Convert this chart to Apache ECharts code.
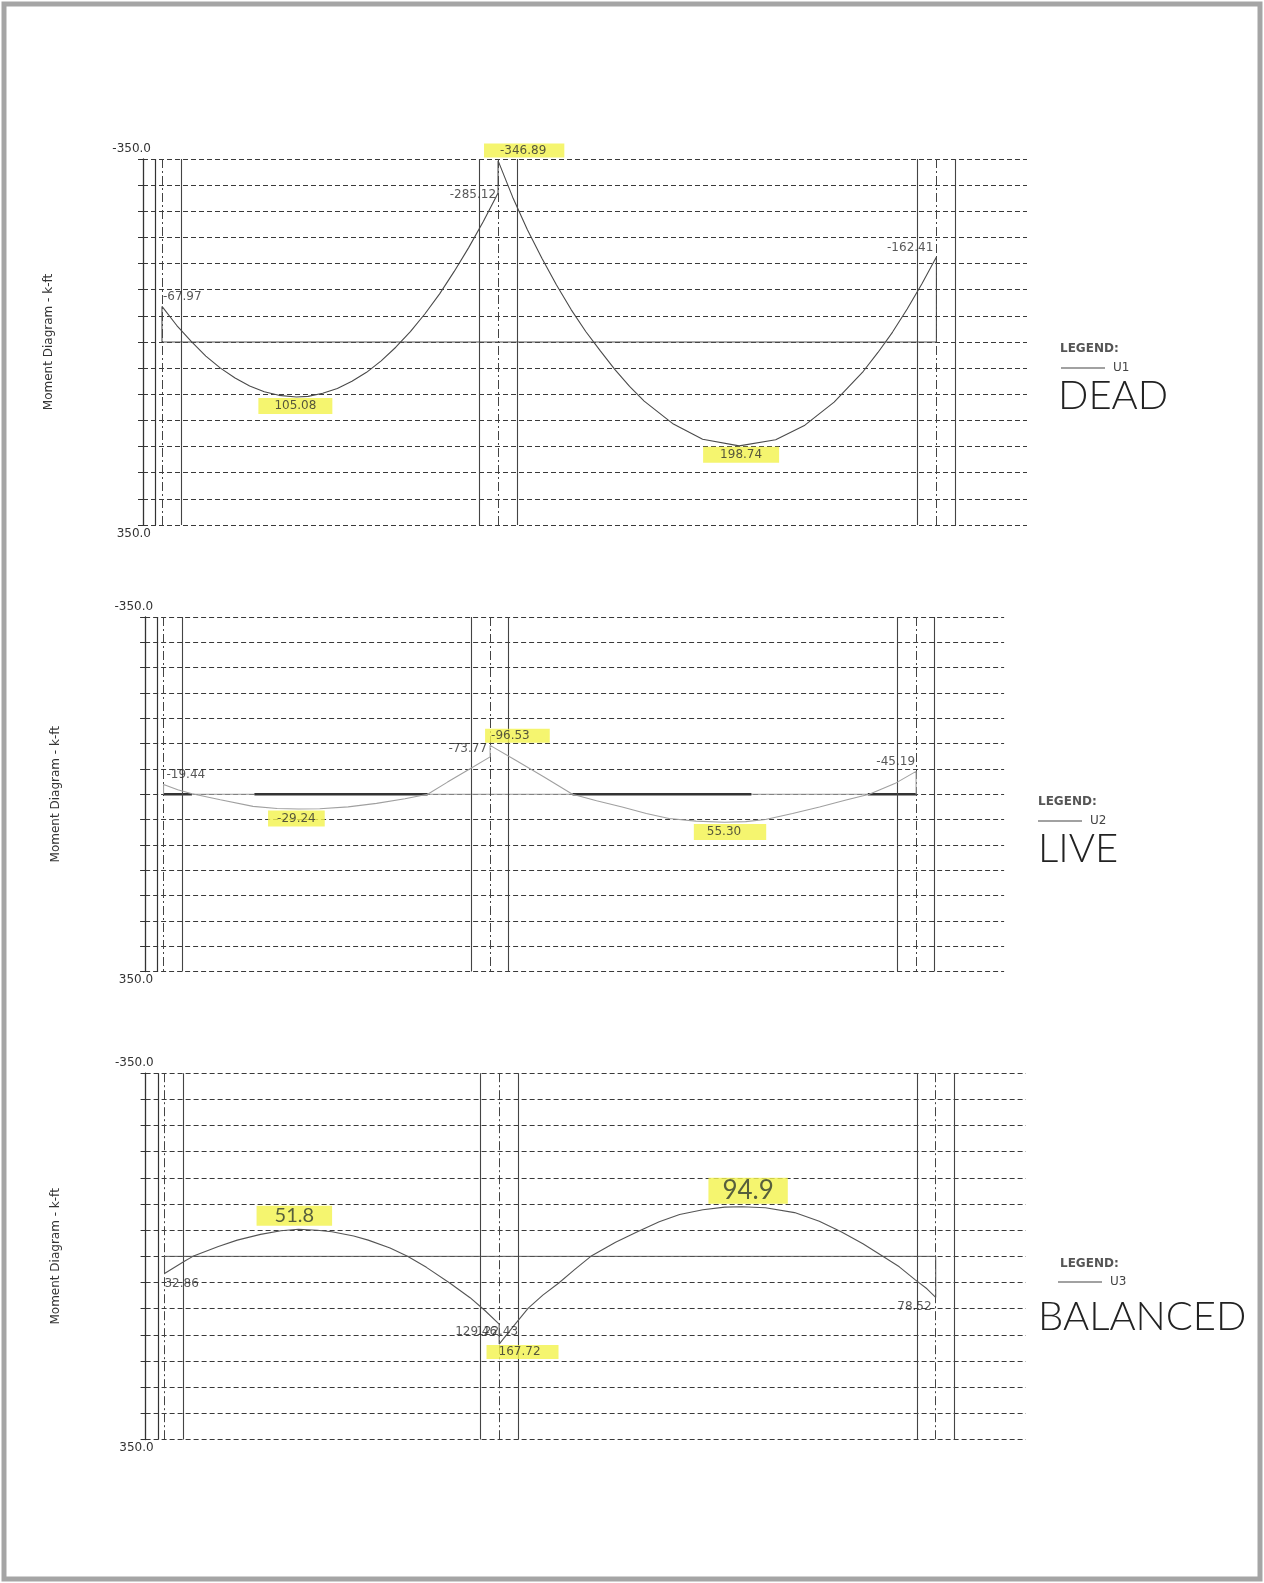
<!DOCTYPE html>
<html>
<head>
<meta charset="utf-8">
<script src="https://cdn.jsdelivr.net/npm/echarts/dist/echarts.min.js"></script>
<style>
html,body{margin:0;padding:0;background:#ffffff;}
#c{width:1264px;height:1583px;}
</style>
</head>
<body>
<div id="c"></div>
<script>
// ---------- shared geometry (feet along beam) ----------
const supports = [0, 23, 53];          // column centrelines
const colFace = 1.3;                   // half column width
const axisBoxInner = -0.45;            // inner line of the axis box
const xMin = -1.3, xMax = 59.2;
const yMin = -350, yMax = 350, yStep = 50;
const yTickLabels = ['-350.0', '350.0'];
const axisTitle = 'Moment Diagram - k-ft';
const legendNames = ['U1', 'U2', 'U3'];
const caseNames = ['DEAD', 'LIVE', 'BALANCED'];

// ---------- U1 : DEAD ----------
const deadLeft = [[0,-67.97],[1,-32],[2,-1],[3,27],[4,50],[5,69],[6,84],[7,95],[8,102],[9.2,105.08],[10,104],[11,98],[12,89],[13,75],[14,58],[15,36],[16,10],[17,-20],[18,-54],[19,-92],[20,-135],[21,-181],[22,-231],[23,-285.12]];
const deadRight = [[23,-346.89],[24,-277],[25,-215],[26,-160],[27,-109],[28,-62],[29,-20],[30,17],[31,53],[32,85],[33,113],[35,157],[37,186],[39.5,198.74],[42,187],[44,159],[46,115],[48,56],[49,20],[50,-19],[51,-63],[52,-111],[53,-162.41]];
const deadLabels = [[0,-67.97,'-67.97'],[9.2,105.08,'105.08'],[23,-285.12,'-285.12'],[23,-346.89,'-346.89'],[53,-162.41,'-162.41'],[39.5,198.74,'198.74']];

// ---------- U2 : LIVE ----------
const liveLeft = [[0,-19.44],[1,-9],[2,-1],[4,11],[6.3,24],[8,28],[9.5,29.24],[11,28.5],[13,25],[15,18],[17,9],[18.6,0],[20,-24],[21.5,-49],[23,-73.77]];
const liveRight = [[23,-96.53],[24.8,-67],[26.8,-34],[28.8,0],[30.5,13],[32.3,25],[34,38],[35.6,48],[37.5,53],[39.5,55.30],[41,54],[42.4,50],[44.3,38],[46.2,25],[48,12],[49.7,0],[51.5,-21],[53,-45.19]];
const liveLoaded = [[0,2],[6.4,18.6],[28.8,41.4],[49.6,53]];
const liveLabels = [[0,-19.44,'-19.44'],[9.5,29.24,'-29.24'],[23,-73.77,'-73.77'],[23,-96.53,'-96.53'],[53,-45.19,'-45.19'],[39.5,55.30,'55.30']];

// ---------- U3 : BALANCED ----------
const balLeft = [[0,32.86],[1.34,10],[1.95,0],[3.7,-19],[5,-31],[6.6,-42],[8,-49],[9.2,-51.8],[10.5,-50],[11.5,-47],[13,-39],[14,-31],[15.5,-16],[16.7,0],[18,21],[19.6,51],[21,79],[22,103],[23,129.46]];
const balRight = [[23,167.72],[24,133],[25,99],[26,74],[27.1,51],[28.2,25],[29.3,0],[31,-27],[32.5,-47],[34,-66],[35.4,-80],[37,-89],[38.5,-94],[39.7,-94.9],[41.3,-93],[43.3,-83.6],[45,-67],[46.5,-47],[48,-24],[49.2,-3],[50.5,20],[51.6,45],[52.4,62],[53,78.52]];
const balLabels = [[0,32.86,'32.86'],[23,129.46,'129.46'],[23,122.43,'122.43'],[23,167.72,'167.72'],[53,78.52,'78.52']];
const balNotes = [[9.2,-51.8,'51.8'],[39.7,-94.9,'94.9']];

// ---------- layout / style (not data) ----------
const FONT = 'DejaVu Sans';
const HAND = 'Lato';
const HL = '#f2f24b';
const grids = [
  {left:143, top:159, width:884, height:366},
  {left:145.1, top:617, width:859, height:354.5},
  {left:145.6, top:1073.2, width:880.3, height:366.3}
];
const nameGaps = [88, 83.5, 84];
const curveColors = ['#4a4a4a', '#a0a0a0', '#555555'];

const placeDead = [
  {a:'left', d:[1,-10]},
  {a:'center', d:[-1,9], hl:[2,16,2,16]},
  {a:'right', d:[-2,2]},
  {a:'left', d:[-14,-10], hl:[1,18,1,16]},
  {a:'right', d:[-3,-9]},
  {a:'center', d:[2,9], hl:[2,17,2,17]}
];
const placeLive = [
  {a:'left', d:[3,-9]},
  {a:'center', d:[-2,9.5], hl:[2,9,2,9]},
  {a:'right', d:[-3,-8]},
  {a:'left', d:[-5,-9.5], hl:[1,20,1,6]},
  {a:'right', d:[-1,-9.5]},
  {a:'left', d:[-30.5,9.7], hl:[2,25,2,13]}
];
const placeBal = [
  {a:'left', d:[0,10]},
  {a:'right', d:[-2,7.6]},
  {a:'left', d:[-23,11.3]},
  {a:'left', d:[-12.6,8], hl:[1,18,1,12]},
  {a:'right', d:[-4,9]}
];
const placeNotes = [
  {a:'center', d:[-4,-13.5], hl:[0,18,0,18], fs:20},
  {a:'center', d:[6,-16], hl:[0,14,0,14], fs:26}
];

function labelItems(list, place, hand) {
  return list.map((r, i) => {
    const p = place[i];
    const lab = {
      show: true, formatter: r[2], position: p.d, align: p.a, verticalAlign: 'middle',
      fontFamily: hand ? HAND : FONT, fontSize: hand ? p.fs : 12, color: hand ? '#2f3a2f' : '#2e2e2e'
    };
    if (hand) { lab.lineHeight = p.fs; }
    if (p.hl) { lab.backgroundColor = HL; lab.padding = p.hl; }
    return {value: [r[0], r[1]], label: lab};
  });
}

const vLineItems = [];
supports.forEach(s => {
  vLineItems.push({xAxis: s, lineStyle: {type: [9,3,2,3], color: '#444', width: 1}});
  if (s - colFace > xMin + 0.01) vLineItems.push({xAxis: s - colFace, lineStyle: {type: 'solid', color: '#444', width: 1.1}});
  vLineItems.push({xAxis: s + colFace, lineStyle: {type: 'solid', color: '#444', width: 1.1}});
});
vLineItems.push({xAxis: axisBoxInner, lineStyle: {type: 'solid', color: '#333', width: 1.2}});

const xAxes = grids.map((g, i) => ({gridIndex: i, type: 'value', min: xMin, max: xMax, show: false}));
const yAxes = grids.map((g, i) => ({
  gridIndex: i, type: 'value', inverse: true, min: yMin, max: yMax, interval: yStep,
  name: axisTitle, nameLocation: 'middle', nameRotate: 90, nameGap: nameGaps[i],
  nameTextStyle: {fontFamily: FONT, fontSize: 12, color: '#333'},
  axisLine: {show: true, onZero: false, lineStyle: {color: '#333', width: 1.3}},
  axisTick: {show: true, length: 5, lineStyle: {color: '#333'}},
  axisLabel: {
    margin: -8,
    formatter: v => v === yMin ? '{t|' + yTickLabels[0] + '}' : (v === yMax ? '{b|' + yTickLabels[1] + '}' : ''),
    rich: {
      t: {fontFamily: FONT, fontSize: 12, color: '#333', padding: [0,0,20,0]},
      b: {fontFamily: FONT, fontSize: 12, color: '#333', padding: [17,0,0,0]}
    }
  },
  splitLine: {show: true, lineStyle: {type: [5,3], color: '#3a3a3a', width: 1.1}}
}));

const curves = [
  [[0,0]].concat(deadLeft, deadRight, [[53,0]]),
  [[0,0]].concat(liveLeft, liveRight, [[53,0]]),
  [[0,0]].concat(balLeft, balRight, [[53,0]])
];
const zeroColors = ['#555', '#9a9a9a', '#555'];

const series = [];
grids.forEach((g, i) => {
  series.push({
    type: 'line', name: 'zero' + i, xAxisIndex: i, yAxisIndex: i, silent: true,
    data: [[supports[0], 0], [supports[2], 0]], showSymbol: false,
    lineStyle: {color: zeroColors[i], width: 1},
    markLine: {silent: true, symbol: ['none','none'], label: {show: false}, data: vLineItems}
  });
  series.push({
    type: 'line', name: legendNames[i], xAxisIndex: i, yAxisIndex: i,
    data: curves[i], showSymbol: false, color: curveColors[i],
    lineStyle: {color: curveColors[i], width: 1.1}, z: 5
  });
});
liveLoaded.forEach((seg, k) => {
  series.push({
    type: 'line', name: 'load' + k, xAxisIndex: 1, yAxisIndex: 1, silent: true,
    data: [[seg[0], 0], [seg[1], 0]], showSymbol: false,
    lineStyle: {color: '#333', width: 2.6}, z: 4
  });
});
const lblSets = [labelItems(deadLabels, placeDead), labelItems(liveLabels, placeLive), labelItems(balLabels, placeBal).concat(labelItems(balNotes, placeNotes, true))];
lblSets.forEach((items, i) => {
  series.push({
    type: 'scatter', name: 'lbl' + i, xAxisIndex: i, yAxisIndex: i, silent: true,
    symbol: 'circle', symbolSize: 0.1, itemStyle: {color: 'transparent'}, data: items, z: 10
  });
});

const legendPos = [
  {left: 1061, top: 362},
  {left: 1038, top: 815},
  {left: 1058, top: 1276}
];
const legends = legendNames.map((n, i) => ({
  data: [n], left: legendPos[i].left, top: legendPos[i].top, padding: 0,
  icon: 'rect', itemWidth: 44, itemHeight: 1.2, itemGap: 0,
  itemStyle: {color: '#444'},
  textStyle: {fontFamily: FONT, fontSize: 12, color: '#444', padding: [0,0,0,3]}
}));

const titlePos = [
  {leg: [1060, 343], hand: [1058, 376]},
  {leg: [1038, 796], hand: [1038, 829]},
  {leg: [1060, 1258], hand: [1038, 1297]}
];
const titles = [];
titlePos.forEach((p, i) => {
  titles.push({text: 'LEGEND:', left: p.leg[0], top: p.leg[1], padding: 0,
    textStyle: {fontFamily: FONT, fontSize: 12, fontWeight: 'bold', color: '#555'}});
  titles.push({text: caseNames[i], left: p.hand[0], top: p.hand[1], padding: 0,
    textStyle: {fontFamily: HAND, fontSize: 40, fontWeight: 300, color: '#222'}});
});

const chart = echarts.init(document.getElementById('c'), null, {renderer: 'canvas'});
chart.setOption({
  backgroundColor: '#ffffff',
  animation: false,
  textStyle: {fontFamily: FONT},
  title: titles,
  legend: legends,
  grid: grids,
  xAxis: xAxes,
  yAxis: yAxes,
  series: series,
  graphic: [{type: 'rect', shape: {x: 4, y: 4, width: 1256, height: 1575}, style: {fill: 'none', stroke: '#a5a5a5', lineWidth: 5}, silent: true}]
});
</script>
</body>
</html>
